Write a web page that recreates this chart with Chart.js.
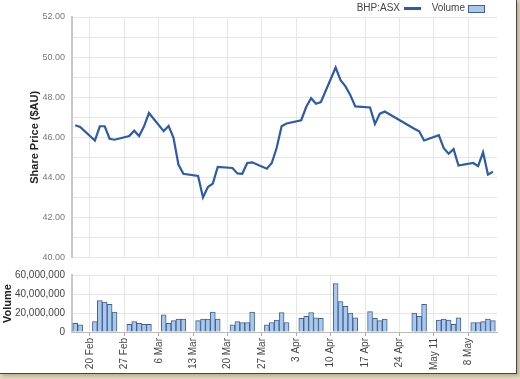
<!DOCTYPE html>
<html>
<head>
<meta charset="utf-8">
<script src="https://cdn.jsdelivr.net/npm/chart.js@4"></script>
<style>
  html, body { margin: 0; padding: 0; background: #ddd8c4; }
  #frame {
    position: absolute; left: 0; top: 0;
    width: 516px; height: 373px;
    background: #fff;
    border-right: 1px solid #444; border-bottom: 1px solid #444;
    box-shadow: 2px 2px 3px #b9ae86;
  }
  canvas { position: absolute; left: 0; }
  #priceChart { top: 0; }
  #volumeChart { top: 262px; }
</style>
</head>
<body>
<div id="frame">
  <canvas id="priceChart" width="516" height="270"></canvas>
  <canvas id="volumeChart" width="516" height="112"></canvas>
</div>
<script>
// dias de negociação (2011) e valores
const datas = [
  '2011-02-17','2011-02-18',
  '2011-02-21','2011-02-22','2011-02-23','2011-02-24','2011-02-25',
  '2011-02-28','2011-03-01','2011-03-02','2011-03-03','2011-03-04',
  '2011-03-07','2011-03-08','2011-03-09','2011-03-10','2011-03-11',
  '2011-03-14','2011-03-15','2011-03-16','2011-03-17','2011-03-18',
  '2011-03-21','2011-03-22','2011-03-23','2011-03-24','2011-03-25',
  '2011-03-28','2011-03-29','2011-03-30','2011-03-31','2011-04-01',
  '2011-04-04','2011-04-05','2011-04-06','2011-04-07','2011-04-08',
  '2011-04-11','2011-04-12','2011-04-13','2011-04-14','2011-04-15',
  '2011-04-18','2011-04-19','2011-04-20','2011-04-21',
  '2011-04-27','2011-04-28','2011-04-29',
  '2011-05-02','2011-05-03','2011-05-04','2011-05-05','2011-05-06',
  '2011-05-09','2011-05-10','2011-05-11','2011-05-12','2011-05-13'
];

const precos = [
  46.60, 46.52,
  45.84, 46.55, 46.55, 45.93, 45.88,
  46.06, 46.33, 46.06, 46.55, 47.21,
  46.31, 46.56, 45.98, 44.64, 44.18,
  44.07, 43.00, 43.52, 43.69, 44.52,
  44.47, 44.20, 44.18, 44.72, 44.75,
  44.43, 44.72, 45.48, 46.55, 46.69,
  46.85, 47.51, 47.95, 47.67, 47.76,
  49.48, 48.85, 48.54, 48.10, 47.54,
  47.49, 46.67, 47.18, 47.29,
  46.43, 46.30, 45.84,
  46.11, 45.46, 45.18, 45.41, 44.59,
  44.72, 44.56, 45.25, 44.14, 44.28
];

// volume em milhões de ações
const volumes = [
  9, 7.5,
  11, 33, 31.5, 29, 21,
  8, 11, 9, 8, 8,
  18, 9, 12, 13.5, 13.5,
  12, 13.5, 13.5, 21, 13.5,
  7.5, 11, 10, 10, 21,
  7.5, 10, 12.5, 20.5, 10,
  14.5, 16.5, 20.5, 15, 14.5,
  51, 32, 27, 20, 15,
  21.5, 14.5, 12, 13.5,
  20, 16.5, 29,
  12.5, 13.5, 12.5, 8, 15,
  10, 10, 11, 13.5, 12
];

const datasTicks = ['2011-02-20','2011-02-27','2011-03-06','2011-03-13','2011-03-20','2011-03-27',
                    '2011-04-03','2011-04-10','2011-04-17','2011-04-24','2011-05-01','2011-05-08'];
const rotulosTicks = ['20 Feb','27 Feb','6 Mar','13 Mar','20 Mar','27 Mar',
                      '3 Apr','10 Apr','17 Apr','24 Apr','May 11','8 May'];

const FONTE = "'Liberation Sans', Arial, sans-serif";
const corLinha = '#2d5ba9';
const corBarra = '#a9c8ee';
const corBorda = '#44608a';
const corGrade = '#e6e6e6';

// dias a partir de 20 Feb
const base = Date.UTC(2011, 1, 20);
function dia(s) {
  const [a, m, d] = s.split('-').map(Number);
  return (Date.UTC(a, m - 1, d) - base) / 86400000;
}
const diasTicks = datasTicks.map(dia);

function eixoX(mostrarRotulos) {
  return {
    type: 'linear',
    min: -3.66,
    max: 82.84,
    offset: false,
    afterBuildTicks: s => { s.ticks = diasTicks.map(v => ({ value: v })); },
    afterFit: s => { s.height = mostrarRotulos ? 40 : 0; },
    grid: { color: corGrade, offset: false, drawTicks: mostrarRotulos, tickLength: 4, tickColor: '#aaa' },
    border: { display: mostrarRotulos, color: '#bbb' },
    ticks: {
      display: mostrarRotulos,
      autoSkip: false,
      maxRotation: 90,
      minRotation: 90,
      padding: 2,
      color: '#444',
      font: { family: FONTE, size: 10 },
      callback: (v, i) => rotulosTicks[i]
    }
  };
}

const legenda = {
  id: 'legenda',
  afterDraw(chart) {
    const ctx = chart.ctx;
    ctx.save();
    ctx.font = '10px ' + FONTE;
    ctx.fillStyle = '#444';
    ctx.textBaseline = 'middle';
    ctx.textAlign = 'right';
    ctx.fillText('BHP:ASX', 400, 8.5);
    ctx.fillText('Volume', 465, 8.5);
    ctx.strokeStyle = corLinha;
    ctx.lineWidth = 3;
    ctx.beginPath();
    ctx.moveTo(404, 8.5);
    ctx.lineTo(421, 8.5);
    ctx.stroke();
    ctx.fillStyle = corBarra;
    ctx.fillRect(468.5, 5.5, 16, 7);
    ctx.strokeStyle = corBorda;
    ctx.lineWidth = 1;
    ctx.strokeRect(468.5, 5.5, 16, 7);
    ctx.restore();
  }
};

new Chart(document.getElementById('priceChart'), {
  type: 'line',
  data: {
    datasets: [{
      label: 'BHP:ASX',
      data: datas.map((d, i) => ({ x: dia(d), y: precos[i] })),
      borderColor: corLinha,
      borderWidth: 2.2,
      pointRadius: 0,
      tension: 0,
      fill: false
    }]
  },
  options: {
    responsive: false,
    animation: false,
    layout: { padding: { top: 17, right: 19, bottom: 9, left: 0 } },
    plugins: { legend: { display: false }, tooltip: { enabled: false } },
    scales: {
      x: eixoX(false),
      y: {
        min: 40,
        max: 52,
        afterFit: s => { s.width = 72; },
        grid: { color: corGrade, drawTicks: false },
        border: { color: '#c8c8c8', width: 2 },
        ticks: {
          stepSize: 1,
          padding: 7,
          color: '#777',
          font: { family: FONTE, size: 9 },
          callback: v => (v % 2 === 0 ? v.toFixed(2) : '')
        },
        title: {
          display: true,
          text: 'Share Price ($AU)',
          color: '#222',
          padding: { top: 28, bottom: 0 },
          font: { family: FONTE, size: 11, weight: 'bold' }
        }
      }
    }
  },
  plugins: [legenda]
});

new Chart(document.getElementById('volumeChart'), {
  type: 'bar',
  data: {
    datasets: [{
      label: 'Volume',
      data: datas.map((d, i) => ({ x: dia(d), y: volumes[i] * 1e6 })),
      backgroundColor: corBarra,
      borderColor: corBorda,
      borderWidth: 1,
      barPercentage: 1,
      categoryPercentage: 1
    }]
  },
  options: {
    responsive: false,
    animation: false,
    layout: { padding: { top: 9, right: 19, bottom: 2, left: 0 } },
    plugins: { legend: { display: false }, tooltip: { enabled: false } },
    scales: {
      x: eixoX(true),
      y: {
        min: 0,
        max: 60000000,
        afterFit: s => { s.width = 72; },
        grid: { color: corGrade, drawTicks: false },
        border: { color: '#c8c8c8', width: 2 },
        ticks: {
          stepSize: 10000000,
          padding: 7,
          color: '#444',
          font: { family: FONTE, size: 10 },
          callback: v => (v % 20000000 === 0 ? v.toLocaleString('en-US') : '')
        },
        title: {
          display: true,
          text: 'Volume',
          color: '#222',
          padding: { top: 1, bottom: 0 },
          font: { family: FONTE, size: 11, weight: 'bold' }
        }
      }
    }
  }
});
</script>
</body>
</html>
